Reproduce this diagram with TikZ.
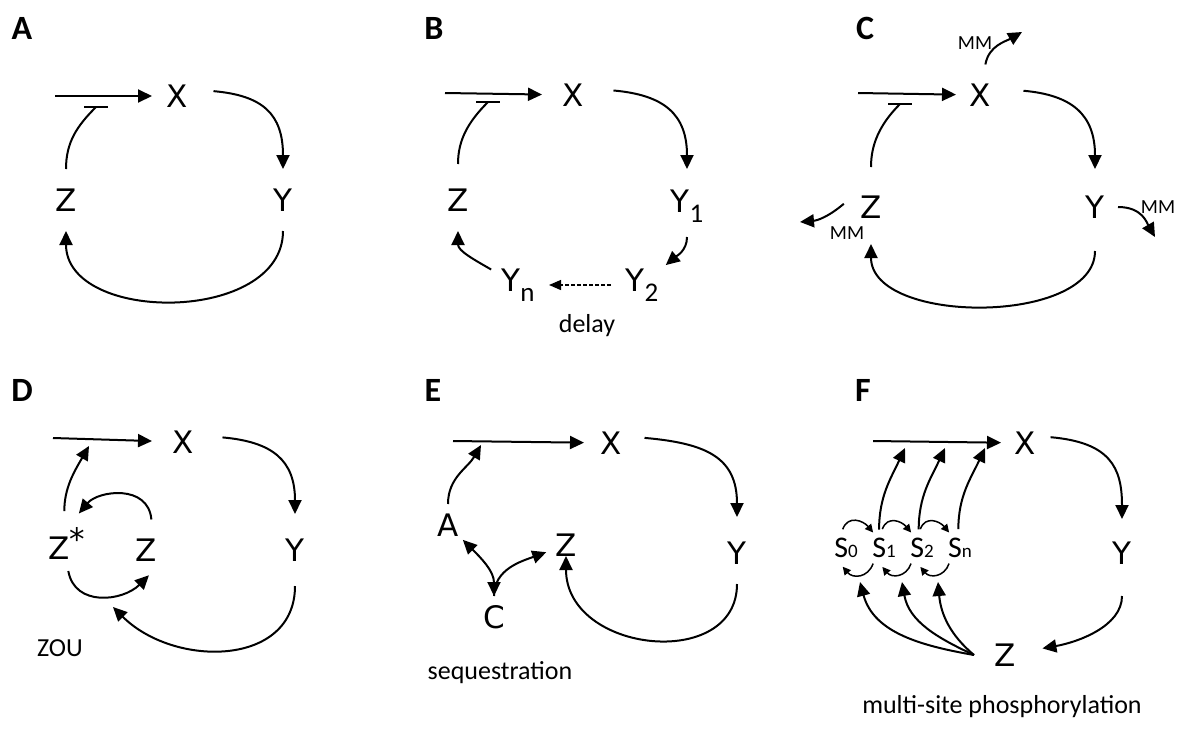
\documentclass[tikz,border=0pt]{standalone}
\usepackage{fontspec}
\setmainfont{Carlito}
\newfontfamily\letterfont{DejaVu Sans}
\usepackage{tikz}
\usetikzlibrary{arrows.meta}

\newcommand\spfont{\letterfont\fontsize{31}{31}\selectfont}
\newcommand\tagfont{\fontsize{34}{34}\selectfont\bfseries}
\newcommand\notefont{\fontsize{26}{26}\selectfont}
\newcommand\mmfont{\fontsize{20}{20}\selectfont}
\newcommand\sitefont{\fontsize{30}{30}\selectfont}
\newcommand\lowidx[1]{\raisebox{-10pt}{\normalfont\fontsize{27}{27}\selectfont #1}}
\newcommand\siteidx[1]{{\fontsize{19}{19}\selectfont #1}}
\newcommand\starmark{\raisebox{9pt}[0pt][0pt]{*}}

\begin{document}
\begin{tikzpicture}[
  x=1pt,y=1pt,line width=2pt,
  >={Triangle[length=14pt,width=13pt]},
  species/.style={circle,inner sep=0pt,minimum size=60pt,font=\spfont},
  smallsp/.style={species,minimum size=40pt},
  site/.style={circle,inner sep=0pt,minimum size=36pt,font=\sitefont},
  tag/.style={font=\tagfont},
  note/.style={font=\notefont},
  mmtext/.style={font=\mmfont},
  act/.style={->},
  tie/.style={-{Triangle[length=8pt,width=8pt]},line width=1.5pt},
  barline/.style={-,line width=2pt},
  delayed/.style={-{Triangle[length=12pt,width=10pt]},dash pattern=on 4pt off 2pt,line width=1.4pt},
  gap/.style 2 args={shorten <=#1,shorten >=#2}
]
\useasboundingbox (0,0) rectangle (1185,-729);

\node[tag] (labA) at (22,-28) {A};
\node[tag] (labB) at (434,-28) {B};
\node[tag] (labC) at (865,-28) {C};
\node[tag] (labD) at (22,-390) {D};
\node[tag] (labE) at (433,-390) {E};
\node[tag] (labF) at (863,-390) {F};

\coordinate (inA) at (55,-96);
\coordinate (barA) at (96,-107);
\node[species] (XA) at (177,-96) {X};
\node[species] (YA) at (283,-200) {Y};
\node[species] (ZA) at (66,-200) {Z};
\draw[act,gap={0pt}{-6pt}] (inA) -- (XA);
\draw[act,gap={6pt}{0pt}] (XA.10) to[out=-5,in=90,looseness=1.3] (YA);
\draw[act] (YA) to[out=-90,in=-90,looseness=1.1] (ZA);
\draw (ZA) to[out=90,in=-135] (barA);
\draw[barline] ([xshift=-12pt]barA) -- ([xshift=12pt]barA);

\coordinate (inB) at (445,-93);
\coordinate (barB) at (488,-102);
\node[species] (XB) at (573,-95) {X};
\node[species] (Y1B) at (687,-206) {Y\lowidx{1}};
\node[species] (Y2B) at (642,-285) {Y\lowidx{2}};
\node[species] (YnB) at (518,-285) {Y\lowidx{n}};
\node[species] (ZB) at (458,-200) {Z};
\draw[act] (inB) -- (XB);
\draw[act,gap={10pt}{6pt}] (XB.10) to[out=-5,in=90,looseness=1.3] (Y1B);
\draw[act] (Y1B) to[out=-90,in=40] (Y2B);
\draw[delayed] (Y2B) -- (YnB);
\draw[act] (YnB) to[out=150,in=-90] (ZB);
\draw[gap={5pt}{0pt}] (ZB) to[out=90,in=-135] (barB);
\draw[barline] ([xshift=-12pt]barB) -- ([xshift=12pt]barB);
\node[note] (delayB) at (587,-326) {delay};

\coordinate (inC) at (858,-93);
\coordinate (barC) at (900,-104);
\coordinate (outX) at (1022,-32);
\coordinate (outZ) at (800,-222);
\coordinate (outY) at (1155,-237);
\node[species] (XC) at (980,-95) {X};
\node[species] (YC) at (1095,-207) {Y};
\node[species] (ZC) at (871,-207) {Z};
\draw[act,gap={0pt}{-7pt}] (inC) -- (XC);
\draw[act,gap={13pt}{7pt}] (XC.10) to[out=-5,in=90,looseness=1.3] (YC);
\draw[act,gap={13pt}{6pt}] (YC) to[out=-90,in=-90] (ZC);
\draw[gap={9pt}{0pt}] (ZC) to[out=90,in=-135] (barC);
\draw[barline] ([xshift=-12pt]barC) -- ([xshift=12pt]barC);
\draw[act] (XC.80) to[out=80,in=-150] (outX);
\draw[act,gap={-5pt}{0pt}] (ZC.west) to[out=-140,in=5] (outZ);
\draw[act,gap={-8pt}{0pt}] (YC.east) to[out=0,in=120] (outY);
\node[mmtext] (mmX) at (975,-43) {MM};
\node[mmtext] (mmZ) at (847,-233) {MM};
\node[mmtext] (mmY) at (1158,-207) {MM};

\coordinate (inD) at (53,-438);
\coordinate (actD) at (89,-446);
\coordinate (cycD) at (113,-607);
\node[species] (XD) at (183,-442) {X};
\node[species] (YD) at (295,-550) {Y};
\node[species] (ZsD) at (67,-548) {Z\starmark};
\node[species] (ZD) at (146,-550) {Z};
\draw[act] (inD) -- (XD);
\draw[act,gap={9pt}{5pt}] (XD.10) to[out=-5,in=90,looseness=1.3] (YD);
\draw[act,gap={5pt}{0pt}] (YD) to[out=-90,in=-45,looseness=1.2] (cycD);
\draw[act,gap={6pt}{0pt}] (ZsD.95) to[out=90,in=-120] (actD);
\draw[act,gap={0pt}{6pt}] (ZD.80) to[out=95,in=50,looseness=1.2] (ZsD.75);
\draw[act,gap={-8pt}{-8pt}] (ZsD.-85) to[out=-80,in=-135] (ZD.-95);
\node[note] (zouD) at (60,-648) {ZOU};

\coordinate (inE) at (453,-441);
\coordinate (actE) at (481,-445);
\node[species] (XE) at (611,-443) {X};
\node[species] (YE) at (737,-553) {Y};
\node[smallsp] (ZE) at (566,-545) {Z};
\node[smallsp] (AE) at (448,-525) {A};
\node[smallsp] (CE) at (494,-617) {C};
\draw[act,gap={0pt}{-4pt}] (inE) -- (XE);
\draw[act,gap={3pt}{5pt}] (XE.10) to[out=-5,in=90,looseness=1.3] (YE);
\draw[act,gap={0pt}{-10pt}] (YE) to[out=-90,in=-90,looseness=1.3] (ZE);
\draw[act] (AE) to[out=90,in=-120] (actE);
\draw[<->] (AE) to[out=-45,in=90] (CE);
\draw[act] (CE) to[out=90,in=200] (ZE);
\node[note] (seqE) at (500,-673) {sequestration};

\coordinate (inF) at (873,-441);
\coordinate (a1F) at (905,-448);
\coordinate (a2F) at (945,-448);
\coordinate (a3F) at (985,-448);
\coordinate (d0F) at (860,-582);
\coordinate (d1F) at (902,-582);
\coordinate (d2F) at (938,-582);
\node[species] (XF) at (1025,-443) {X};
\node[species] (YF) at (1122,-553) {Y};
\node[species] (ZF) at (1005,-655) {Z};
\node[site] (S0F) at (846,-548) {S\siteidx{0}};
\node[site] (S1F) at (884,-548) {S\siteidx{1}};
\node[site] (S2F) at (922,-548) {S\siteidx{2}};
\node[site] (SnF) at (960,-548) {S\siteidx{n}};
\draw[act,gap={0pt}{-7pt}] (inF) -- (XF);
\draw[act,gap={-5pt}{3pt}] (XF.10) to[out=-5,in=90,looseness=1.3] (YF);
\draw[act,gap={12pt}{7pt}] (YF) to[out=-90,in=10] (ZF);
\draw[tie] (S0F.100) to[out=70,in=130,looseness=1.3] (S1F.125);
\draw[tie] (S1F.95) to[out=70,in=130,looseness=1.3] (S2F.125);
\draw[tie] (S2F.95) to[out=70,in=130,looseness=1.3] (SnF.125);
\draw[tie] (S1F.-125) to[out=-110,in=-50,looseness=1.3] (S0F.-100);
\draw[tie] (S2F.-125) to[out=-110,in=-50,looseness=1.3] (S1F.-95);
\draw[tie] (SnF.-125) to[out=-110,in=-50,looseness=1.3] (S2F.-95);
\draw[act] (S1F.105) to[out=90,in=-115] (a1F);
\draw[act] (S2F.100) to[out=90,in=-115] (a2F);
\draw[act] (SnF.95) to[out=90,in=-115] (a3F);
\draw[act] (ZF.west) to[out=170,in=-75] (d0F);
\draw[act] (ZF.west) to[out=155,in=-80] (d1F);
\draw[act] (ZF.west) to[out=140,in=-85] (d2F);
\node[note] (multiF) at (1002,-707) {multi-site phosphorylation};
\end{tikzpicture}
\end{document}
